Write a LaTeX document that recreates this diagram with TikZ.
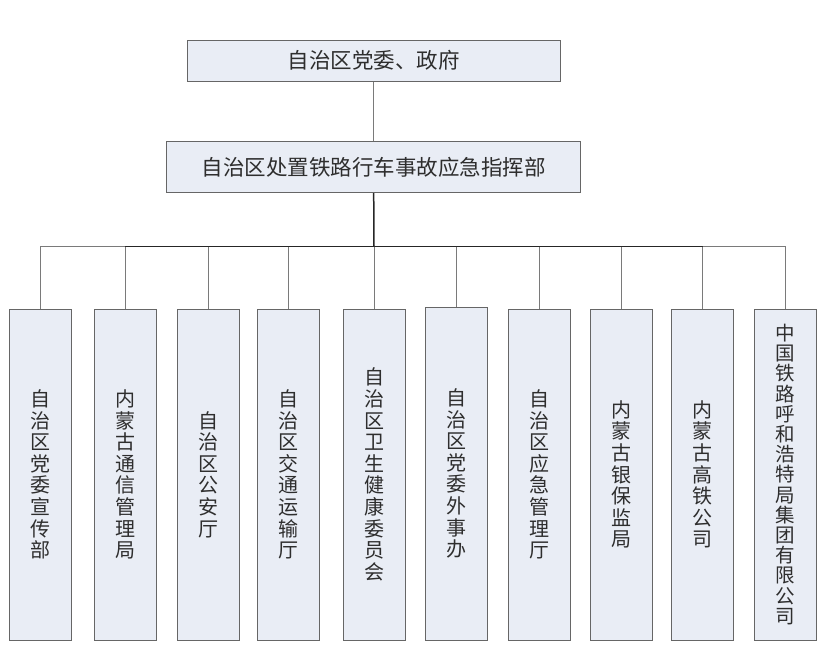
\documentclass[tikz,border=0pt]{standalone}
\usepackage{fontspec}
\setmainfont{Noto Sans CJK SC}
\definecolor{boxfill}{HTML}{E9EDF5}
\definecolor{boxline}{HTML}{666666}
\definecolor{txt}{HTML}{2E2E2E}
\definecolor{thinline}{HTML}{7A7A7A}
\begin{document}
\begin{tikzpicture}[x=1pt,y=-1pt,
  orgbox/.style={draw=boxline,line width=0.9pt,fill=boxfill,inner sep=0pt,text=txt},
  headbox/.style={orgbox,font=\fontsize{21.5}{23}\selectfont},
  unitbox/.style={orgbox,minimum width=62pt,minimum height=331pt,align=center,font=\fontsize{20}{21.6}\selectfont},
  thin/.style={draw=thinline,line width=0.9pt},
  thick/.style={draw=black!85,line width=1.5pt}]
\useasboundingbox (0,0) rectangle (830,653);
\node[headbox,minimum width=373pt,minimum height=41pt] (gov) at (373.7,60.7) {自治区党委、政府};
\node[headbox,minimum width=414pt,minimum height=51pt] (hq) at (373.7,167.2) {自治区处置铁路行车事故应急指挥部};
\coordinate (bus) at (374,246.7);
\node[unitbox] (c1) at (40.3,474.5) {自\\治\\区\\党\\委\\宣\\传\\部};
\node[unitbox] (c2) at (125.3,474.5) {内\\蒙\\古\\通\\信\\管\\理\\局};
\node[unitbox] (c3) at (208,474.5) {自\\治\\区\\公\\安\\厅};
\node[unitbox] (c4) at (288.8,474.5) {自\\治\\区\\交\\通\\运\\输\\厅};
\node[unitbox] (c5) at (374,474.5) {自\\治\\区\\卫\\生\\健\\康\\委\\员\\会};
\node[unitbox,minimum height=333pt] (c6) at (456.7,473.5) {自\\治\\区\\党\\委\\外\\事\\办};
\node[unitbox] (c7) at (539,474.5) {自\\治\\区\\应\\急\\管\\理\\厅};
\node[unitbox] (c8) at (621.8,474.5) {内\\蒙\\古\\银\\保\\监\\局};
\node[unitbox] (c9) at (702.7,474.5) {内\\蒙\\古\\高\\铁\\公\\司};
\node[unitbox,font=\fontsize{19.5}{20.2}\selectfont] (c10) at (785.5,474.5) {中\\国\\铁\\路\\呼\\和\\浩\\特\\局\\集\\团\\有\\限\\公\\司};
\draw[thin] (gov.south) -- (hq.north);
\draw[thick] (hq.south) -- (bus);
\draw[thick] (c2.north |- bus) -- (c9.north |- bus);
\draw[thin] (c1.north |- bus) -- (c2.north |- bus);
\draw[thin] (c9.north |- bus) -- (c10.north |- bus);
\foreach \i in {1,...,10} {
  \draw[thin] (c\i.north |- bus) -- (c\i.north);
}
\end{tikzpicture}
\end{document}
